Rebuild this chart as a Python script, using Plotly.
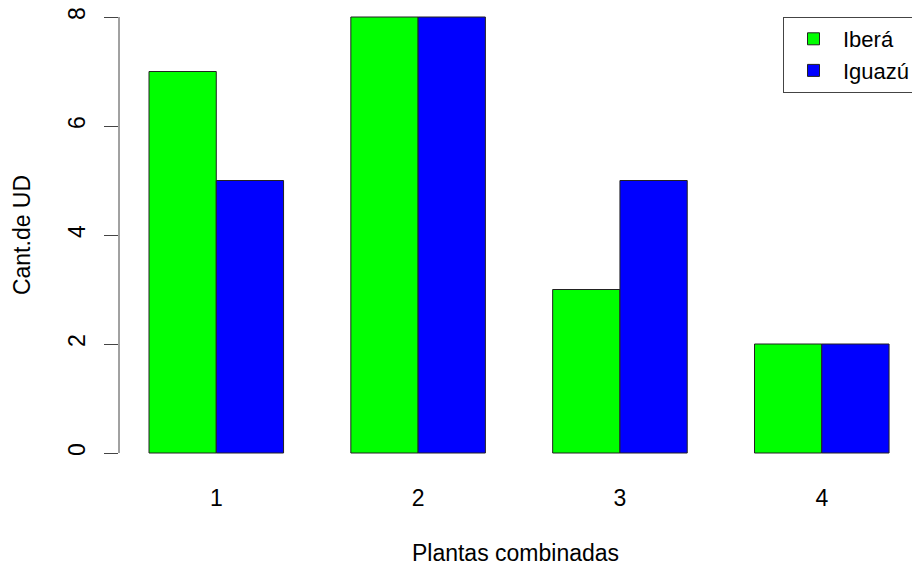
import plotly.graph_objects as go

categories = ["1", "2", "3", "4"]
ibera = [7, 8, 3, 2]
iguazu = [5, 8, 5, 2]
y_ticks = [0, 2, 4, 6, 8]

FONT = "Liberation Sans, Arial, sans-serif"
FS = 23

fig = go.Figure()
fig.add_trace(go.Bar(
    x=categories, y=ibera, name="Iberá",
    marker=dict(color="#00FF00", line=dict(color="#222222", width=1)),
    width=1/3, offset=-1/3,
))
fig.add_trace(go.Bar(
    x=categories, y=iguazu, name="Iguazú",
    marker=dict(color="#0000FF", line=dict(color="#222222", width=1)),
    width=1/3, offset=0,
))

# y axis line only spanning the data ticks (R style)
fig.add_shape(type="line", xref="paper", yref="y", x0=0, x1=0,
              y0=min(y_ticks), y1=max(y_ticks),
              line=dict(color="#444444", width=1))

plot_w = 912 - 119
plot_h = 568 - 0 - 98
fig.update_layout(
    width=912, height=568,
    margin=dict(l=119, r=0, t=0, b=98, autoexpand=False),
    paper_bgcolor="white", plot_bgcolor="white",
    font=dict(family=FONT, size=FS, color="black"),
    barmode="overlay",
    showlegend=True,
    legend=dict(
        x=(783 - 119) / plot_w, xanchor="left", y=1 - 17 / plot_h, yanchor="top",
        bordercolor="#444444", borderwidth=1, bgcolor="white",
        font=dict(family=FONT, size=22, color="black"),
        tracegroupgap=0, itemwidth=49,
    ),
    xaxis=dict(
        type="category", range=[-0.482, 3.447],
        showgrid=False, zeroline=False, showline=False, ticks="",
        tickfont=dict(family=FONT, size=FS, color="black"),
        ticklabelstandoff=12,
        title=dict(text="Plantas combinadas", standoff=34,
                   font=dict(family=FONT, size=FS, color="black")),
    ),
    yaxis=dict(
        range=[-0.312, 8.312],
        tickvals=y_ticks, ticktext=[str(v) for v in y_ticks],
        showgrid=False, zeroline=False, showline=False,
        ticks="outside", ticklen=14, tickcolor="#444444", tickwidth=1,
        tickangle=-90,
        tickfont=dict(family=FONT, size=FS, color="black"),
        ticklabelstandoff=10,
        title=dict(text="Cant.de UD", standoff=26,
                   font=dict(family=FONT, size=FS, color="black")),
    ),
)

fig.write_html("out.html",
               config={"displayModeBar": False},
               post_script="document.body.style.margin='0';document.body.style.overflow='hidden';")
